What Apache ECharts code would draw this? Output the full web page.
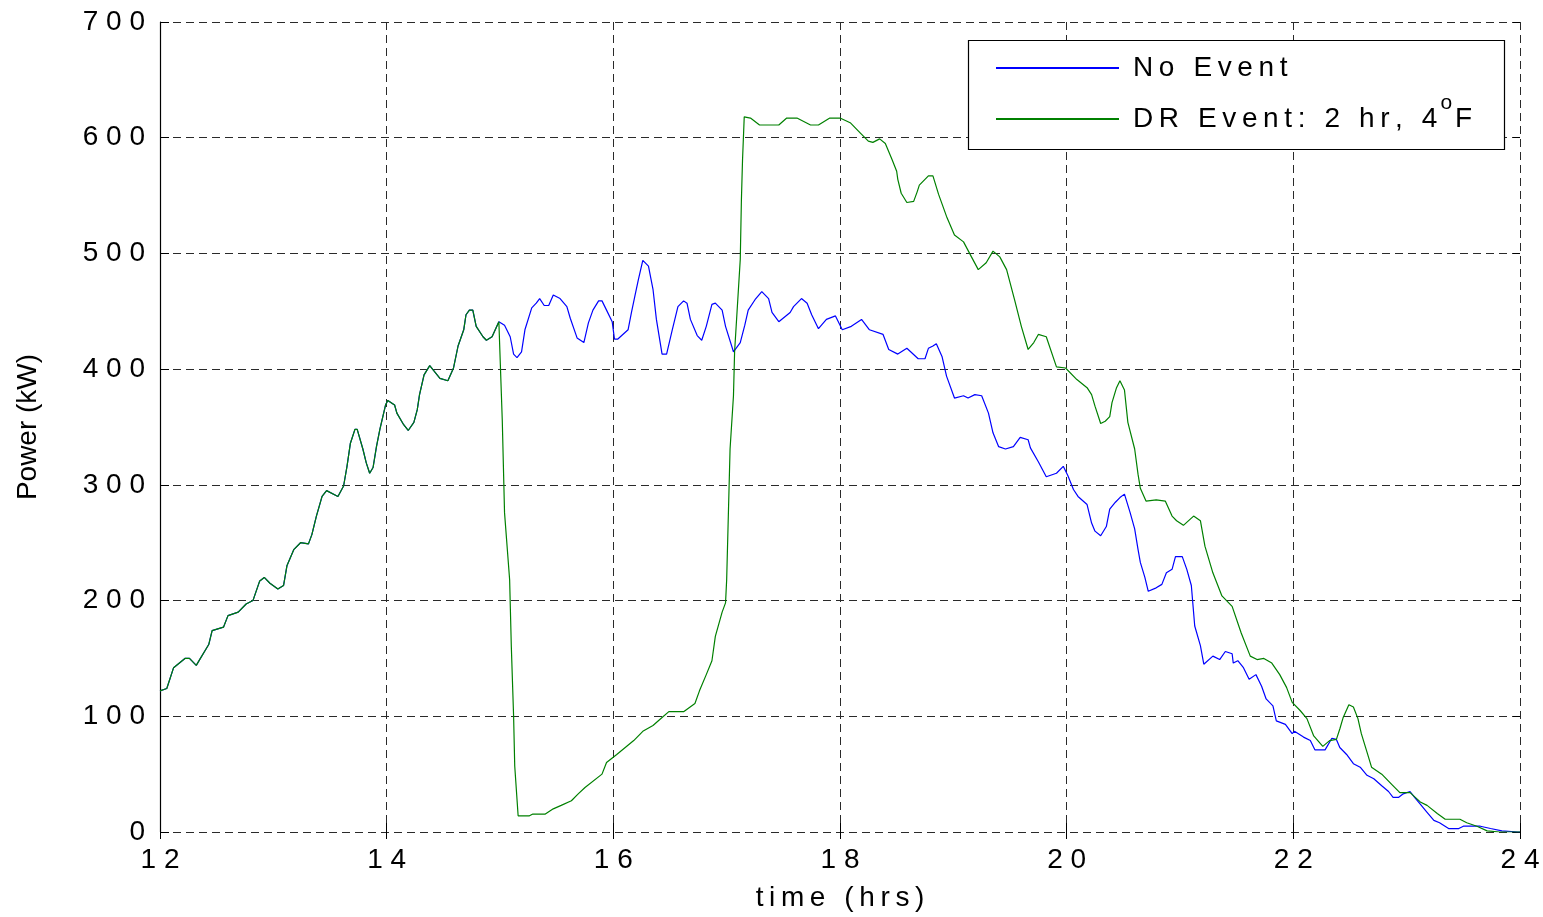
<!DOCTYPE html>
<html>
<head>
<meta charset="utf-8">
<script src="https://cdn.jsdelivr.net/npm/echarts@6/dist/echarts.min.js"></script>
<style>
html,body{margin:0;padding:0;background:#fff;}
#chart{width:1543px;height:917px;}
</style>
</head>
<body>
<div id="chart"></div>
<script>
// [hour, kW] — common part of both runs (before the DR event starts)
const sharedPoints = [[12.00,122],[12.01,123],[12.06,124],[12.12,142],[12.22,150],[12.26,150],[12.32,144],[12.35,149],[12.43,162],[12.46,174],[12.56,177],[12.60,187],[12.69,190],[12.76,197],[12.82,200],[12.88,217],[12.92,220],[12.97,215],[13.04,210],[13.09,213],[13.12,230],[13.18,244],[13.24,250],[13.31,249],[13.34,257],[13.38,273],[13.43,290],[13.47,295],[13.57,290],[13.62,299],[13.65,316],[13.68,336],[13.72,348],[13.74,348],[13.79,331],[13.82,319],[13.85,310],[13.88,315],[13.91,333],[13.94,348],[13.99,369],[14.01,373],[14.07,369],[14.09,362],[14.15,352],[14.19,347],[14.24,354],[14.27,365],[14.29,378],[14.33,395],[14.38,403],[14.47,392],[14.54,390],[14.59,401],[14.63,420],[14.68,434],[14.70,447],[14.73,451],[14.76,451],[14.79,437],[14.85,428],[14.88,425],[14.93,428],[14.99,441],[15.00,441]];

const noEventPoints = [[15.04,438],[15.09,428],[15.12,413],[15.15,410],[15.19,415],[15.22,434],[15.28,453],[15.32,457],[15.35,461],[15.39,455],[15.43,455],[15.47,464],[15.53,461],[15.59,454],[15.62,444],[15.68,427],[15.74,423],[15.78,440],[15.82,451],[15.87,459],[15.90,459],[15.94,451],[15.99,441],[16.01,426],[16.04,426],[16.13,434],[16.16,449],[16.19,463],[16.22,477],[16.26,494],[16.31,489],[16.35,469],[16.38,443],[16.43,413],[16.47,413],[16.52,434],[16.57,454],[16.62,459],[16.65,457],[16.68,443],[16.74,429],[16.78,425],[16.82,437],[16.87,456],[16.90,457],[16.96,451],[16.99,437],[17.06,415],[17.12,423],[17.16,438],[17.19,451],[17.25,460],[17.31,467],[17.37,461],[17.40,449],[17.46,441],[17.56,449],[17.59,454],[17.66,461],[17.71,457],[17.75,447],[17.81,435],[17.88,443],[17.96,446],[18.02,434],[18.10,437],[18.19,443],[18.26,434],[18.38,430],[18.43,417],[18.51,413],[18.59,418],[18.69,409],[18.75,409],[18.78,418],[18.82,420],[18.85,422],[18.90,411],[18.94,394],[19.01,375],[19.09,377],[19.13,375],[19.19,378],[19.25,377],[19.31,362],[19.35,345],[19.40,333],[19.46,331],[19.53,333],[19.59,341],[19.66,339],[19.68,332],[19.75,320],[19.82,307],[19.91,310],[19.97,316],[20.01,308],[20.06,296],[20.10,290],[20.18,283],[20.22,267],[20.25,260],[20.30,256],[20.35,264],[20.38,279],[20.43,285],[20.47,289],[20.51,292],[20.56,276],[20.60,262],[20.63,244],[20.65,233],[20.69,220],[20.72,208],[20.79,211],[20.84,214],[20.88,224],[20.93,227],[20.96,238],[21.02,238],[21.06,227],[21.10,213],[21.13,178],[21.18,161],[21.21,145],[21.29,152],[21.35,149],[21.40,156],[21.46,154],[21.47,146],[21.51,148],[21.56,142],[21.61,132],[21.67,136],[21.72,126],[21.76,115],[21.82,109],[21.85,96],[21.93,93],[21.99,85],[22.01,87],[22.09,82],[22.15,79],[22.19,71],[22.28,71],[22.34,81],[22.38,80],[22.41,73],[22.47,67],[22.53,59],[22.59,56],[22.65,49],[22.71,46],[22.78,40],[22.84,35],[22.88,30],[22.93,30],[22.97,33],[23.03,35],[23.07,30],[23.12,24],[23.18,17],[23.24,10],[23.29,8],[23.37,3],[23.46,3],[23.50,5],[23.65,5],[23.74,3],[23.84,1],[23.98,0],[24.00,0]];

const drEventPoints = [[15.02,356],[15.04,276],[15.085,218],[15.10,160],[15.12,100],[15.13,57],[15.16,14],[15.26,14],[15.29,15.5],[15.40,15.5],[15.47,20],[15.54,23],[15.63,27],[15.69,33],[15.75,38.5],[15.90,50],[15.94,60],[16.03,67],[16.18,79],[16.26,87],[16.35,92],[16.43,99],[16.49,104],[16.62,104],[16.72,111],[16.76,122],[16.82,136],[16.87,148],[16.90,169],[16.96,190],[16.99,198],[17.00,218],[17.03,331],[17.06,377],[17.07,415],[17.12,495],[17.13,546],[17.14,581],[17.155,618],[17.21,617],[17.29,611],[17.46,611],[17.53,617],[17.62,617],[17.74,611],[17.81,611],[17.91,617],[18.00,617],[18.09,613],[18.18,604],[18.25,597],[18.29,596],[18.35,599],[18.40,595],[18.46,581],[18.50,571],[18.51,564],[18.54,552],[18.59,544],[18.65,545],[18.68,553],[18.70,559],[18.78,567],[18.82,567],[18.87,551],[18.94,532],[19.01,516],[19.09,510],[19.16,497],[19.22,486],[19.29,492],[19.35,502],[19.41,497],[19.47,486],[19.54,460],[19.60,437],[19.66,417],[19.71,423],[19.75,430],[19.82,428],[19.91,402],[19.99,401],[20.09,391],[20.18,384],[20.22,378],[20.25,368],[20.30,353],[20.34,355],[20.38,359],[20.40,371],[20.44,384],[20.47,390],[20.51,382],[20.54,354],[20.60,331],[20.63,309],[20.65,297],[20.70,286],[20.79,287],[20.87,286],[20.93,273],[20.97,269],[21.03,265],[21.12,273],[21.18,269],[21.22,247],[21.29,224],[21.37,204],[21.46,195],[21.54,172],[21.62,152],[21.68,149],[21.74,150],[21.81,146],[21.88,136],[21.94,125],[21.99,112],[22.06,105],[22.12,98],[22.18,83],[22.26,74],[22.32,79],[22.38,80],[22.41,89],[22.44,99],[22.49,110],[22.53,108],[22.57,98],[22.60,85],[22.65,69],[22.69,56],[22.78,50],[22.87,41],[22.94,34],[23.03,34],[23.12,26],[23.18,23],[23.27,16],[23.34,11],[23.47,11],[23.53,8],[23.62,5],[23.71,1],[23.82,0],[24.00,0]];

const seriesNames = ['No Event', 'DR Event: 2 hr, 4oF'];
const xAxisTitle = 'time (hrs)';
const yAxisTitle = 'Power (kW)';

const FONT = '"Liberation Sans", Arial, sans-serif';
const spaced = s => String(s).split('').join('\u2009');
const digitSpaced = v => String(v).split('').join(' ');

const chart = echarts.init(document.getElementById('chart'), null, {renderer: 'canvas'});

const gridLine = {show: true, lineStyle: {color: '#2a2a2a', type: [8, 5], width: 1}};
const tickStyle = {show: true, inside: true, length: 9, lineStyle: {color: '#000', width: 1}};

chart.setOption({
  animation: false,
  backgroundColor: '#fff',
  grid: {left: 160, right: 23, top: 22, bottom: 84, containLabel: false},
  legend: {
    show: true,
    orient: 'vertical',
    left: 995,
    top: 54,
    itemWidth: 123,
    itemHeight: 28,
    itemGap: 11,
    padding: 0,
    itemStyle: {opacity: 0},
    data: seriesNames,
    formatter: function (name) {
      if (name === seriesNames[1]) {
        return '{a|' + spaced('DR Event: 2 hr, 4') + '}{sup|o}{a|' + spaced('F') + '}';
      }
      return '{a|' + spaced(name) + '}';
    },
    textStyle: {
      padding: [0, 0, 0, 9],
      rich: {
        a: {fontFamily: FONT, fontSize: 28, color: '#000', lineHeight: 30},
        sup: {fontFamily: FONT, fontSize: 21, color: '#000', verticalAlign: 'bottom', lineHeight: 20, padding: [0, 3, 20, 3]}
      }
    }
  },
  graphic: [{
    type: 'rect',
    shape: {x: 968.5, y: 40.5, width: 536, height: 109},
    style: {fill: '#fff', stroke: '#000', lineWidth: 1.2},
    z: 4
  }],
  xAxis: [{
    type: 'value', min: 12, max: 24, interval: 2,
    name: spaced(xAxisTitle), nameLocation: 'middle', nameGap: 52,
    nameTextStyle: {fontFamily: FONT, fontSize: 28, color: '#000'},
    axisLine: {show: false},
    axisTick: tickStyle,
    axisLabel: {fontFamily: FONT, fontSize: 28, color: '#000', margin: 14, formatter: digitSpaced},
    splitLine: gridLine
  }, {
    type: 'value', min: 12, max: 24, interval: 2, position: 'top',
    axisLine: {show: false}, axisTick: {show: true, inside: true, length: 7, lineStyle: {color: '#000'}},
    axisLabel: {show: false}, splitLine: {show: false}
  }],
  yAxis: [{
    type: 'value', min: 0, max: 700, interval: 100,
    name: yAxisTitle, nameLocation: 'middle', nameGap: 118,
    nameTextStyle: {fontFamily: FONT, fontSize: 28, color: '#000'},
    axisLine: {show: true, lineStyle: {color: '#000', width: 1.2}},
    axisTick: tickStyle,
    axisLabel: {fontFamily: FONT, fontSize: 28, color: '#000', margin: 15, formatter: digitSpaced},
    splitLine: gridLine
  }, {
    type: 'value', min: 0, max: 700, interval: 100, position: 'right',
    axisLine: {show: false}, axisTick: {show: true, inside: true, length: 7, lineStyle: {color: '#000'}},
    axisLabel: {show: false}, splitLine: {show: false}
  }],
  series: [{
    name: seriesNames[0],
    type: 'line',
    xAxisIndex: 0, yAxisIndex: 0,
    data: sharedPoints.concat(noEventPoints),
    symbol: 'none',
    lineStyle: {color: '#0000ff', width: 1.2},
    itemStyle: {color: '#0000ff'},
    z: 2
  }, {
    name: seriesNames[1],
    type: 'line',
    xAxisIndex: 0, yAxisIndex: 0,
    data: sharedPoints.concat(drEventPoints),
    symbol: 'none',
    lineStyle: {color: '#008000', width: 1.2},
    itemStyle: {color: '#008000'},
    z: 3
  }]
});
</script>
</body>
</html>
